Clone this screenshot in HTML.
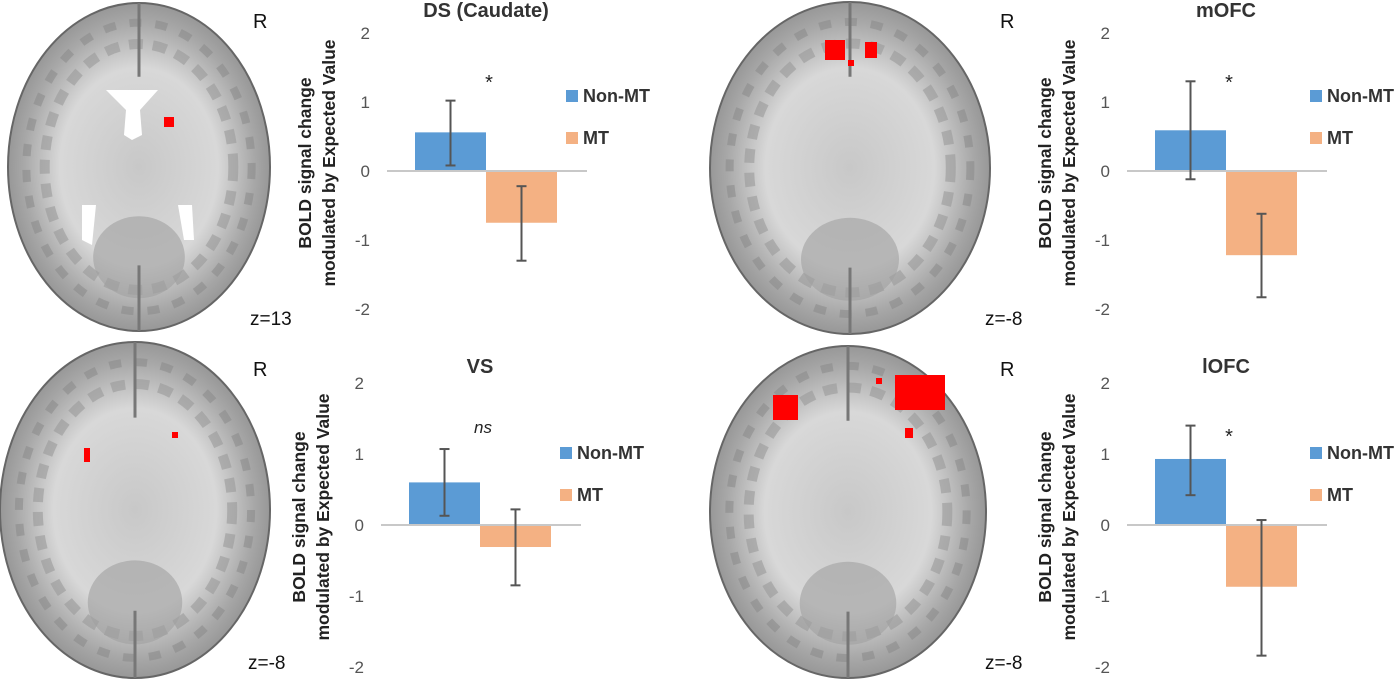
<!DOCTYPE html>
<html><head><meta charset="utf-8"><style>
html,body{margin:0;padding:0;background:#fff;}
svg{display:block;font-family:"Liberation Sans",sans-serif;}
</style></head><body>
<svg id="fig" width="1400" height="680" viewBox="0 0 1400 680">
<defs>
<radialGradient id="bg" cx="50%" cy="50%" r="55%">
<stop offset="0" stop-color="#c8c8c8"/><stop offset="0.55" stop-color="#d8d8d8"/><stop offset="0.8" stop-color="#a8a8a8"/><stop offset="1" stop-color="#8a8a8a"/>
</radialGradient>
</defs>
<g id="brains"></g>
<g id="charts"></g>
</svg>
<script>
// Chart data
const categories = ["Non-MT", "MT"];
const titles = ["DS (Caudate)", "VS", "mOFC", "lOFC"];
const annotations = ["*", "ns", "*", "*"];
const nonMtValues = [0.56, 0.6, 0.59, 0.93];
const mtValues = [-0.75, -0.31, -1.22, -0.87];
const nonMtErrHigh = [1.02, 1.07, 1.3, 1.4];
const nonMtErrLow = [0.08, 0.13, -0.12, 0.42];
const mtErrHigh = [-0.22, 0.22, -0.62, 0.07];
const mtErrLow = [-1.3, -0.85, -1.83, -1.84];
const tickValues = [2, 1, 0, -1, -2];
const tickLabels = ["2", "1", "0", "-1", "-2"];
const brainLabels = ["z=13", "z=-8", "z=-8", "z=-8"];

const NS = "http://www.w3.org/2000/svg";
function mk(tag, attrs, parent){const e=document.createElementNS(NS,tag);for(const k in attrs)e.setAttribute(k,attrs[k]);parent.appendChild(e);return e;}

// brains
const brainG = document.getElementById('brains');
const brainBoxes = [
 {cx:139,cy:167,rx:131,ry:164,lx:250,ly:325,rxp:253,ryp:28},
 {cx:135,cy:510,rx:135,ry:168,lx:248,ly:669,rxp:253,ryp:376},
 {cx:850,cy:168,rx:140,ry:166,lx:985,ly:325,rxp:1000,ryp:28},
 {cx:848,cy:512,rx:138,ry:166,lx:985,ly:669,rxp:1000,ryp:376}
];
const blobs = [
 [[164,117,10,10]],
 [[84,448,6,14],[172,432,6,6]],
 [[825,40,20,20],[865,42,12,16],[848,60,6,6]],
 [[773,395,25,25],[895,375,50,35],[905,428,8,10],[876,378,6,6]]
];
brainBoxes.forEach((b,i)=>{
 const g = mk('g',{},brainG);
 
 
 mk('ellipse',{cx:b.cx,cy:b.cy,rx:b.rx,ry:b.ry,fill:'url(#bg)',stroke:'#666','stroke-width':2},g);
 mk('ellipse',{cx:b.cx,cy:b.cy,rx:b.rx*0.86,ry:b.ry*0.88,fill:'none',stroke:'#8c8c8c','stroke-width':8,'stroke-dasharray':'12 14',opacity:0.6},g);
 mk('ellipse',{cx:b.cx,cy:b.cy,rx:b.rx*0.72,ry:b.ry*0.75,fill:'none',stroke:'#999','stroke-width':10,'stroke-dasharray':'14 10',opacity:0.6},g);
 mk('ellipse',{cx:b.cx,cy:b.cy+b.ry*0.55,rx:b.rx*0.35,ry:b.ry*0.25,fill:'#a0a0a0',opacity:0.6},g);
 mk('line',{x1:b.cx,y1:b.cy-b.ry,x2:b.cx,y2:b.cy-b.ry*0.55,stroke:'#777','stroke-width':3},g);
 mk('line',{x1:b.cx,y1:b.cy+b.ry*0.6,x2:b.cx,y2:b.cy+b.ry,stroke:'#777','stroke-width':3},g);
 if(i===0){
  mk('path',{d:'M106 90 L158 90 L140 110 L142 135 L132 140 L124 135 L126 110 Z',fill:'#fff'},g);
  mk('path',{d:'M82 205 L96 205 L92 245 L82 240 Z',fill:'#fff'},g);
  mk('path',{d:'M178 205 L192 205 L194 240 L184 240 Z',fill:'#fff'},g);
 }
 blobs[i].forEach(r=>{mk('rect',{x:r[0],y:r[1],width:r[2],height:r[3],fill:'#ff0000'},g);});
 const rt = mk('text',{x:b.rxp,y:b.ryp,'font-size':20,fill:'#111'},g); rt.textContent='R';
  
 const zt = mk('text',{x:b.lx,y:b.ly,'font-size':19,fill:'#111'},g); zt.textContent=brainLabels[i];
  
});

// charts
const panels = [
 {x0:415,zero:171,unit:69,titleY:17,legX:566,legY:90,axX0:387,axX1:587,tickX:370,ytX:311},
 {x0:409,zero:525,unit:71,titleY:373,legX:560,legY:447,axX0:381,axX1:581,tickX:364,ytX:305},
 {x0:1155,zero:171,unit:69,titleY:17,legX:1310,legY:90,axX0:1127,axX1:1327,tickX:1110,ytX:1051},
 {x0:1155,zero:525,unit:71,titleY:373,legX:1310,legY:447,axX0:1127,axX1:1327,tickX:1110,ytX:1051}
];
const barW = 71;
const chartG = document.getElementById('charts');
panels.forEach((p,i)=>{
 const y = v => p.zero - v*p.unit;
 const g = mk('g',{},chartG);
 
 
 const t = mk('text',{x:p.x0+barW,y:p.titleY,'text-anchor':'middle','font-size':20,'font-weight':'bold',fill:'#333'},g);
 t.textContent = titles[i];
 
 
 tickValues.forEach((tv,k)=>{
  const tt = mk('text',{x:p.tickX,y:y(tv)+6,'text-anchor':'end','font-size':17,fill:'#555'},g);
  tt.textContent = tickLabels[k];
  
  
 });
 const yt = mk('text',{transform:`translate(${p.ytX},${p.zero-8}) rotate(-90)`,'text-anchor':'middle','font-size':17.5,'font-weight':'bold',fill:'#222'},g);
 
 
 const s1 = mk('tspan',{x:0,dy:0},yt); s1.textContent='BOLD signal change';
 const s2 = mk('tspan',{x:0,dy:24},yt); s2.textContent='modulated by Expected Value';
 const vals=[nonMtValues[i],mtValues[i]], hi=[nonMtErrHigh[i],mtErrHigh[i]], lo=[nonMtErrLow[i],mtErrLow[i]];
 const cols=['#5b9bd5','#f4b183'];
 vals.forEach((v,k)=>{
  const bx = p.x0 + k*barW;
  const r = mk('rect',{x:bx,y:Math.min(y(v),p.zero),width:barW,height:Math.abs(y(v)-p.zero),fill:cols[k]},g);
  
  
 });
 const ax = mk('line',{x1:p.axX0,x2:p.axX1,y1:p.zero,y2:p.zero,stroke:'#c8c8c8','stroke-width':2},g);
 
 
 vals.forEach((v,k)=>{
  const cx = p.x0 + k*barW + barW/2;
  const eg = mk('g',{stroke:'#555','stroke-width':2},g);
  
  
  mk('line',{x1:cx,x2:cx,y1:y(hi[k]),y2:y(lo[k])},eg);
  mk('line',{x1:cx-5,x2:cx+5,y1:y(hi[k]),y2:y(hi[k])},eg);
  mk('line',{x1:cx-5,x2:cx+5,y1:y(lo[k]),y2:y(lo[k])},eg);
 });
 const isNs = annotations[i]==='ns';
 const an = mk('text',{x:p.x0+barW+3,y:isNs? p.zero-92 : p.zero-82,'text-anchor':'middle','font-size':isNs?17:20,'font-style':isNs?'italic':'normal',fill:'#222'},g);
 an.textContent = annotations[i];
 
 
 categories.forEach((c,k)=>{
  const lg = mk('g',{},g);
  
  
  mk('rect',{x:p.legX,y:p.legY+k*42,width:12,height:12,fill:cols[k]},lg);
  const lt = mk('text',{x:p.legX+17,y:p.legY+k*42+12,'font-size':18,'font-weight':'bold',fill:'#333'},lg);
  lt.textContent = c;
 });
});
</script>
</body></html>
